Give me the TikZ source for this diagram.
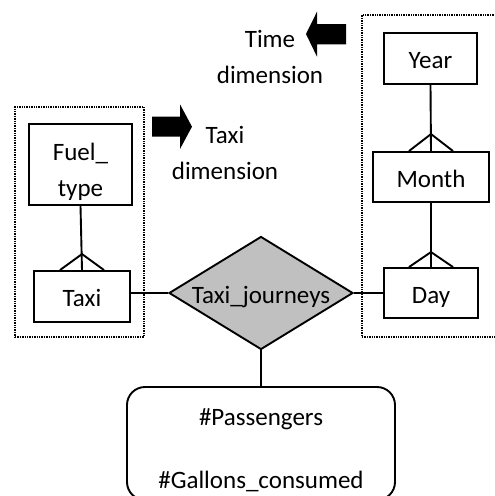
\documentclass[tikz,border=0pt]{standalone}
\usepackage{fontspec}
\setmainfont{Carlito}
\usetikzlibrary{shapes.geometric,calc}
\definecolor{relgray}{RGB}{192,192,192}
\begin{document}
\begin{tikzpicture}[x=1pt,y=-1pt,
  ent/.style={draw,line width=1.9pt,inner sep=0pt,font=\fontsize{25}{36}\selectfont,align=center,text height=20pt,text depth=0pt},
  ent2/.style={draw,line width=1.9pt,inner sep=0pt,font=\fontsize{25}{36}\selectfont,align=center},
  dimbox/.style={draw,densely dotted,line width=1.4pt,inner sep=0pt},
  lbl/.style={font=\fontsize{25}{36}\selectfont,align=center,inner sep=0pt,anchor=south},
  conn/.style={line width=1.9pt},
  rel/.style={draw,line width=1.9pt,fill=relgray,shape=diamond,aspect=1.63,inner sep=0pt,minimum width=184pt,minimum height=113pt,font=\fontsize{25}{36}\selectfont,text height=20pt,text depth=0pt},
  factbox/.style={draw,line width=1.9pt,rounded corners=18pt,inner sep=0pt,font=\fontsize{25}{36}\selectfont,align=center}]
\clip (0,0) rectangle (495,496);
% dimension boxes
\node[dimbox,minimum width=129pt,minimum height=230pt] (taxidim) at (79.5,222) {};
\node[dimbox,minimum width=158pt,minimum height=322pt] (timedim) at (441,176) {};
% entities
\node[ent2,minimum width=103pt,minimum height=81pt] (fuel) at (80.5,164.5) {\rule{0pt}{32pt}Fuel\_\\type};
\node[ent,minimum width=96pt,minimum height=51pt] (taxi) at (82,296.5) {Taxi};
\node[ent,minimum width=93pt,minimum height=51pt] (year) at (430.5,58.5) {Year};
\node[ent,minimum width=116pt,minimum height=50pt] (month) at (431,177) {Month};
\node[ent,minimum width=94pt,minimum height=50pt] (day) at (431,293) {Day};
\node[rel] (rel) at (261,293) {Taxi\_journeys};
\node[factbox,minimum width=268pt,minimum height=113pt] (facts) at (261,443.5) {\rule{0pt}{30pt}\#Passengers\\[27pt]\#Gallons\_consumed};
% labels
\node[lbl] (timelbl) at (270,84) {Time\\dimension};
\node[lbl] (taxilbl) at (225,180) {Taxi\\dimension};
% big arrows
\fill (346,24) -- (317,24) -- (317,11.7) -- (306,34) -- (317,56.7) -- (317,44.3) -- (346,44.3) -- cycle;
\fill (152,116.7) -- (180,116.7) -- (180,104.3) -- (192,126.7) -- (180,149) -- (180,136.7) -- (152,136.7) -- cycle;
% connectors
\draw[conn] (fuel.south) -- (taxi.north);
\draw[conn] ($(taxi.north)+(-22,0)$) -- ($(taxi.north)+(0,-16)$) -- ($(taxi.north)+(22,0)$);
\draw[conn] (year.south) -- (month.north);
\draw[conn] ($(month.north)+(-22,0)$) -- ($(month.north)+(0,-17)$) -- ($(month.north)+(22,0)$);
\draw[conn] (month.south) -- (day.north);
\draw[conn] ($(day.north)+(-22,0)$) -- ($(day.north)+(0,-15)$) -- ($(day.north)+(22,0)$);
\draw[conn] (rel.west) -- (rel.west -| taxi.east);
\draw[conn] (rel.east) -- (rel.east -| day.west);
\draw[conn] (rel.south) -- (facts.north);
\end{tikzpicture}
\end{document}
